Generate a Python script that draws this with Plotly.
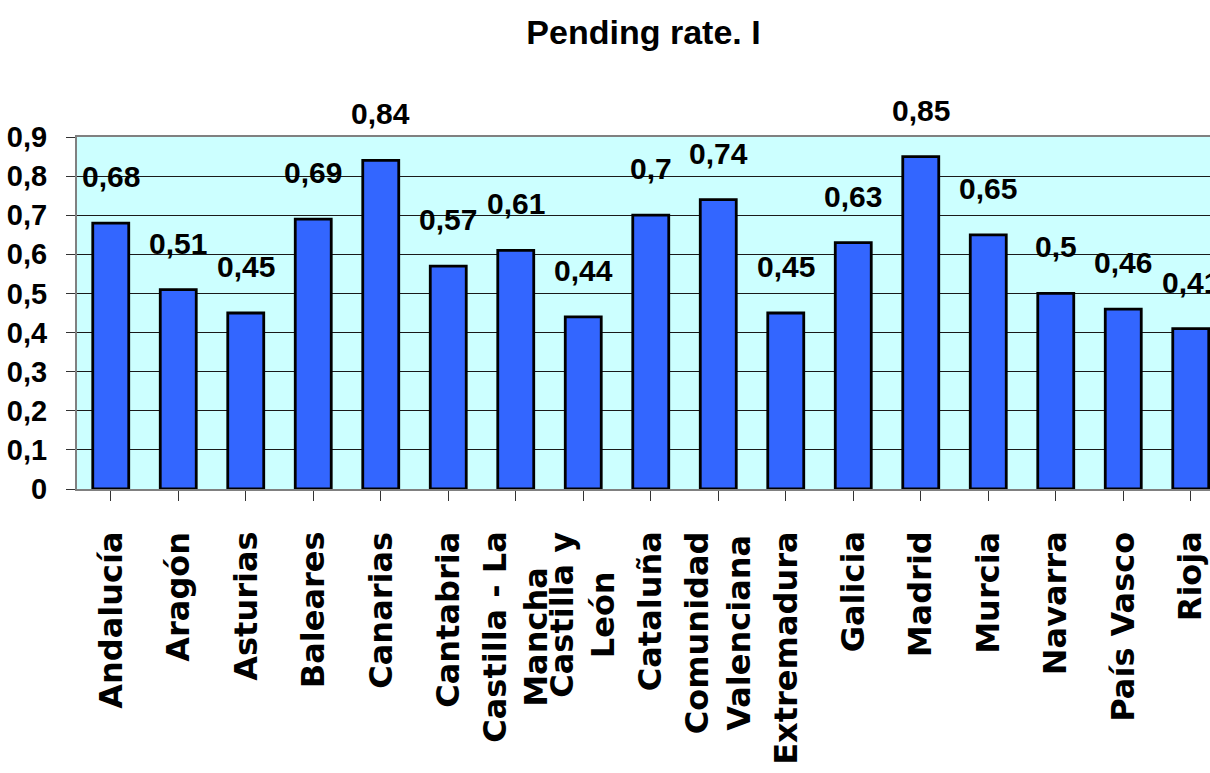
import plotly.graph_objects as go

# Regional pending rate
regions = [
    "Andalucía", "Aragón", "Asturias", "Baleares", "Canarias", "Cantabria",
    "Castilla - La<br>Mancha", "Castilla y<br>León", "Cataluña",
    "Comunidad<br>Valenciana", "Extremadura", "Galicia", "Madrid", "Murcia",
    "Navarra", "País Vasco", "Rioja",
]
rates = [0.68, 0.51, 0.45, 0.69, 0.84, 0.57, 0.61, 0.44, 0.70,
         0.74, 0.45, 0.63, 0.85, 0.65, 0.50, 0.46, 0.41]
y_ticks = [0, 0.1, 0.2, 0.3, 0.4, 0.5, 0.6, 0.7, 0.8, 0.9]
y_tick_text = ["0", "0,1", "0,2", "0,3", "0,4", "0,5", "0,6", "0,7", "0,8", "0,9"]

ARIAL = "Liberation Sans, Arial, Helvetica, sans-serif"
WIDE = "DejaVu Sans, Verdana, Arial, sans-serif"


def fmt(v):
    return f"{v:g}".replace(".", ",")


x_pos = list(range(len(regions)))

fig = go.Figure(
    go.Bar(
        x=x_pos,
        y=rates,
        width=0.533,
        marker=dict(color="#3366FF", line=dict(color="#000000", width=2.8)),
        hoverinfo="skip",
    )
)

annotations = []
# value labels above the bars
for xi, v in zip(x_pos, rates):
    annotations.append(dict(
        x=xi, y=v, xref="x", yref="y", text=fmt(v), showarrow=False,
        xanchor="center", yanchor="bottom", yshift=28,
        font=dict(family=ARIAL, size=30, color="#000000", weight="bold"),
    ))
# rotated category labels under the axis
for xi, name in zip(x_pos, regions):
    annotations.append(dict(
        x=xi, y=-0.115, xref="x", yref="paper", text=name, showarrow=False,
        textangle=-90, align="center", xanchor="center", yanchor="top",
        font=dict(family=WIDE, size=32, color="#000000", weight="bold"),
    ))

fig.update_layout(
    width=1210,
    height=773,
    margin=dict(l=77, r=0, t=137, b=284),
    paper_bgcolor="#FFFFFF",
    plot_bgcolor="#CCFFFF",
    showlegend=False,
    title=dict(
        text="Pending rate. I",
        x=0.5, xref="paper", xanchor="center",
        y=1 - 44 / 773, yref="container", yanchor="bottom",
        font=dict(family=ARIAL, size=34, color="#000000", weight="bold"),
    ),
    annotations=annotations,
    xaxis=dict(
        range=[-0.5, 16.285],
        tickmode="array", tickvals=x_pos, ticktext=[""] * len(x_pos),
        tickson="boundaries", ticks="outside", ticklen=10, tickwidth=1,
        tickcolor="#333333",
        showgrid=False, zeroline=False, automargin=False,
        showline=True, linecolor="#808080", linewidth=2, mirror=True,
        fixedrange=True,
    ),
    yaxis=dict(
        range=[0, 0.9],
        tickmode="array", tickvals=y_ticks, ticktext=y_tick_text,
        ticks="outside", ticklen=9, tickwidth=1, tickcolor="#333333",
        ticklabelstandoff=13, automargin=False,
        tickfont=dict(family=ARIAL, size=29, color="#000000", weight="bold"),
        showgrid=True, gridcolor="#1a1a1a", gridwidth=1,
        zeroline=False,
        showline=True, linecolor="#808080", linewidth=2, mirror=True,
        fixedrange=True,
    ),
)

fig.write_html("out.html", config={"displayModeBar": False})
